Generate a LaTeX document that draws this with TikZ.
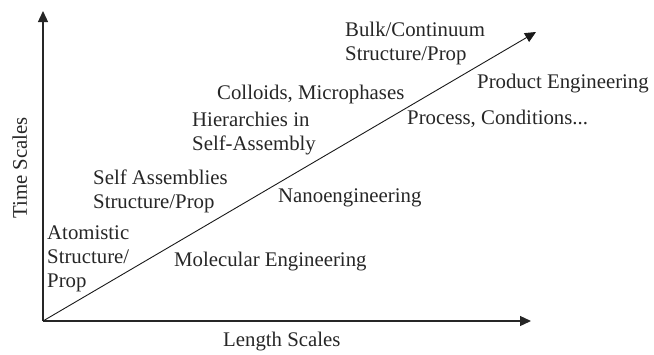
\documentclass[tikz,border=0pt]{standalone}
\usepackage{fontspec}
\setmainfont{Liberation Serif}
\usetikzlibrary{arrows.meta}
\tikzset{
  axis/.style={line width=1.3pt, draw=black!85, -{Triangle[length=11pt,width=10pt]}},
  diag/.style={line width=0.9pt, draw=black!90, -{Triangle[length=11pt,width=10pt]}},
  lbl/.style={font=\fontsize{20.8}{24}\selectfont, inner sep=0pt, anchor=base west, align=left, text=black!85}
}
\begin{document}
\begin{tikzpicture}[x=1pt,y=-1pt]
\useasboundingbox (0,0) rectangle (654,354);
\coordinate (O) at (43,321);
\coordinate (Ytip) at (43,11);
\coordinate (Xtip) at (531,321);
\coordinate (Dtip) at (536,32);
\draw[axis] (O) -- (Ytip);
\draw[axis] (O) -- (Xtip);
\draw[diag] (O) -- (Dtip);
% base anchor of a multi-line node = baseline of its last line
\node[lbl] (atom) at (47,287) {Atomistic\\Structure/\\Prop};
\node[lbl] (self) at (93,208) {Self Assemblies\\Structure/Prop};
\node[lbl] (hier) at (192,150) {Hierarchies in\\Self-Assembly};
\node[lbl] (coll) at (217,99) {Colloids, Microphases};
\node[lbl] (bulk) at (345,60) {Bulk/Continuum\\Structure/Prop};
\node[lbl] (prod) at (477,88) {Product Engineering};
\node[lbl] (proc) at (407,124) {Process, Conditions...};
\node[lbl] (nano) at (278,202) {Nanoengineering};
\node[lbl] (mole) at (174,266) {Molecular Engineering};
\node[lbl] (len) at (223,346) {Length Scales};
\node[lbl, anchor=base, rotate=90] (time) at (27,168) {Time Scales};
\end{tikzpicture}
\end{document}
